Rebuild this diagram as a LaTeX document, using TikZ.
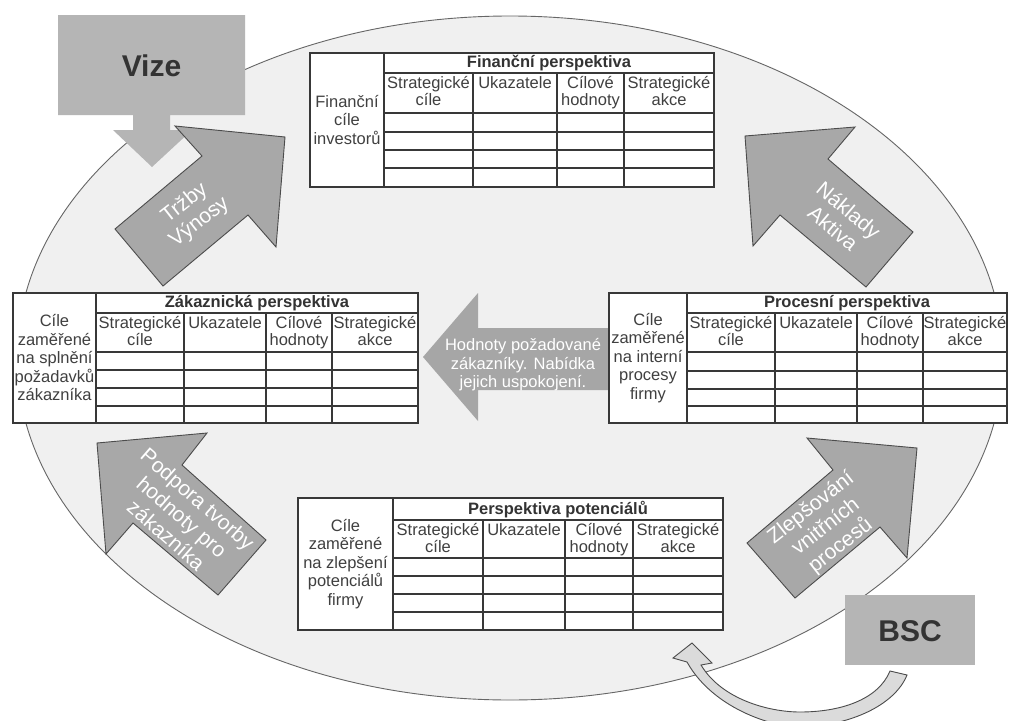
\documentclass[tikz,border=0pt]{standalone}
\usepackage{fontspec}
\setmainfont{Liberation Sans}
\newcommand{\perstable}[3]{%
  \path[fill=white] (\pxL,\pyT) rectangle (\pxR,\pyB);
  \draw[tline] (\pxL,\pyT) rectangle (\pxR,\pyB);
  \draw[tthick] (\pxD,\pyT) -- (\pxD,\pyB);
  \draw[tthick] (\pxD,\pyH) -- (\pxR,\pyH);
  \draw[tline] (\pxD,\pyK) -- (\pxR,\pyK);
  \foreach \yy in \pyRows {\draw[tline] (\pxD,\yy) -- (\pxR,\yy);}
  \foreach \xx in {\pxA,\pxB,\pxC} {\draw[tline] (\xx,\pyH) -- (\xx,\pyB);}
  \node[ttitle] (#1-title) at ({(\pxD+\pxR)/2},{(\pyT+\pyH)/2+0.5}) {#2};
  \node[tleft] (#1-goal) at ({(\pxL+\pxD)/2},{(\pyT+\pyB)/2}) {#3};
  \node[thead] (#1-c1) at ({(\pxD+\pxA)/2},\pyH+3) {Strategické\\cíle};
  \node[thead] (#1-c2) at ({(\pxA+\pxB)/2},\pyH+3) {Ukazatele};
  \node[thead] (#1-c3) at ({(\pxB+\pxC)/2},\pyH+3) {Cílové\\hodnoty};
  \node[thead] (#1-c4) at ({(\pxC+\pxR)/2},\pyH+3) {Strategické\\akce};
}
\begin{document}
\begin{tikzpicture}[x=1pt,y=-1pt,
  tline/.style={draw=black!78,line width=1.1pt},
  tthick/.style={draw=black!78,line width=2.2pt},
  ttitle/.style={font=\bfseries\fontsize{16.5}{16.5}\selectfont,text=black!80,inner sep=0pt},
  tleft/.style={font=\fontsize{16.5}{18.5}\selectfont,text=black!75,align=center,inner sep=0pt},
  thead/.style={font=\fontsize{16.5}{16.8}\selectfont,text=black!75,align=center,anchor=north,inner sep=0pt},
  blockarrow/.style={fill=black!34,draw=black!70,line width=0.9pt,line join=miter},
  flatshape/.style={fill=black!29},
  arrowtext/.style={text=white,font=\fontsize{21}{24}\selectfont,align=center,inner sep=0pt},
  bigtext/.style={text=black!80,font=\bfseries\fontsize{30}{30}\selectfont,inner sep=0pt},
]
\useasboundingbox (0,0) rectangle (1009,720);
\path[fill=white] (0,0) rectangle (1009,720);

% ellipse
\path[fill=black!6,draw=black!60,line width=0.9pt] (510,358) ellipse [x radius=493, y radius=342];

% Vize
\path[flatshape] (58,15) -- (245,15) -- (245,115) -- (170,115) -- (170,130) -- (192,130)
  -- (152,167) -- (113,130) -- (133,130) -- (133,115) -- (58,115) -- cycle;
\node[bigtext] (vize) at (151.5,66) {Vize};

% diagonal arrows
\draw[blockarrow] (163,286) -- (115,229) -- (202,156) -- (175,126) -- (285,137) -- (276,247) -- (248,215) -- cycle;
\node[arrowtext,rotate=38] (trzby) at (192,213) {Tržby\\Výnosy};

\draw[blockarrow] (745,136) -- (855,127) -- (828,159) -- (913,232) -- (866,287) -- (780,215) -- (753,246) -- cycle;
\node[arrowtext,rotate=-40] (naklady) at (841,219) {Náklady\\Aktiva};

\draw[blockarrow] (97,443) -- (207,433) -- (182,465) -- (266,540) -- (218,595) -- (133,523) -- (106,554) -- cycle;
\node[arrowtext,rotate=-41] (podpora) at (182,517) {Podpora tvorby\\hodnoty pro\\zákazníka};

\draw[blockarrow] (807,438) -- (917,448) -- (907,558) -- (880,527) -- (795,598) -- (747,543) -- (833,470) -- cycle;
\node[arrowtext,rotate=38] (zlepsovani) at (826,527) {Zlepšování\\vnitřních\\procesů};

% middle arrow
\path[fill=black!35] (423,357) -- (478,293) -- (478,328) -- (615,328) -- (615,390) -- (478,390) -- (478,421) -- cycle;
\node[text=white,font=\fontsize{16.5}{18.5}\selectfont,align=center,inner sep=0pt] (hodnoty) at (523,365)
  {Hodnoty požadované\\zákazníky. Nabídka\\jejich uspokojení.};

% tables
\def\pxL{310}\def\pxD{384}\def\pxA{473}\def\pxB{557}\def\pxC{624}\def\pxR{714}
\def\pyT{53}\def\pyH{73}\def\pyK{113}\def\pyB{187}\def\pyRows{132,150,168}
\perstable{fin}{Finanční perspektiva}{Finanční\\cíle\\investorů}

\def\pxL{13}\def\pxD{96}\def\pxA{184}\def\pxB{266}\def\pxC{332}\def\pxR{418}
\def\pyT{293}\def\pyH{313}\def\pyK{352}\def\pyB{423}\def\pyRows{370,388,406}
\perstable{zak}{Zákaznická perspektiva}{Cíle\\zaměřené\\na splnění\\požadavků\\zákazníka}

\def\pxL{609}\def\pxD{687}\def\pxA{775}\def\pxB{857}\def\pxC{923}\def\pxR{1007}
\def\pyT{293}\def\pyH{313}\def\pyK{352}\def\pyB{423}\def\pyRows{371,389,406}
\perstable{proc}{Procesní perspektiva}{Cíle\\zaměřené\\na interní\\procesy\\firmy}

\def\pxL{298}\def\pxD{393}\def\pxA{483}\def\pxB{565}\def\pxC{633}\def\pxR{723}
\def\pyT{498}\def\pyH{520}\def\pyK{558}\def\pyB{630}\def\pyRows{576,594,612}
\perstable{pot}{Perspektiva potenciálů}{Cíle\\zaměřené\\na zlepšení\\potenciálů\\firmy}

% BSC
\path[flatshape] (845,595) rectangle (975,665);
\node[bigtext] (bsc) at (910,631) {BSC};

% curved arrow
\draw[fill=black!14,draw=black!70,line width=0.9pt,line join=miter]
  (687,662) .. controls (715,712) and (780,728) .. (800,727)
  .. controls (850,726) and (895,705) .. (907,675)
  -- (890,671)
  .. controls (878,700) and (840,712) .. (800,712)
  .. controls (770,712) and (722,700) .. (701,665)
  -- (712,663) -- (692,643) -- (673,658) -- cycle;
\end{tikzpicture}
\end{document}
